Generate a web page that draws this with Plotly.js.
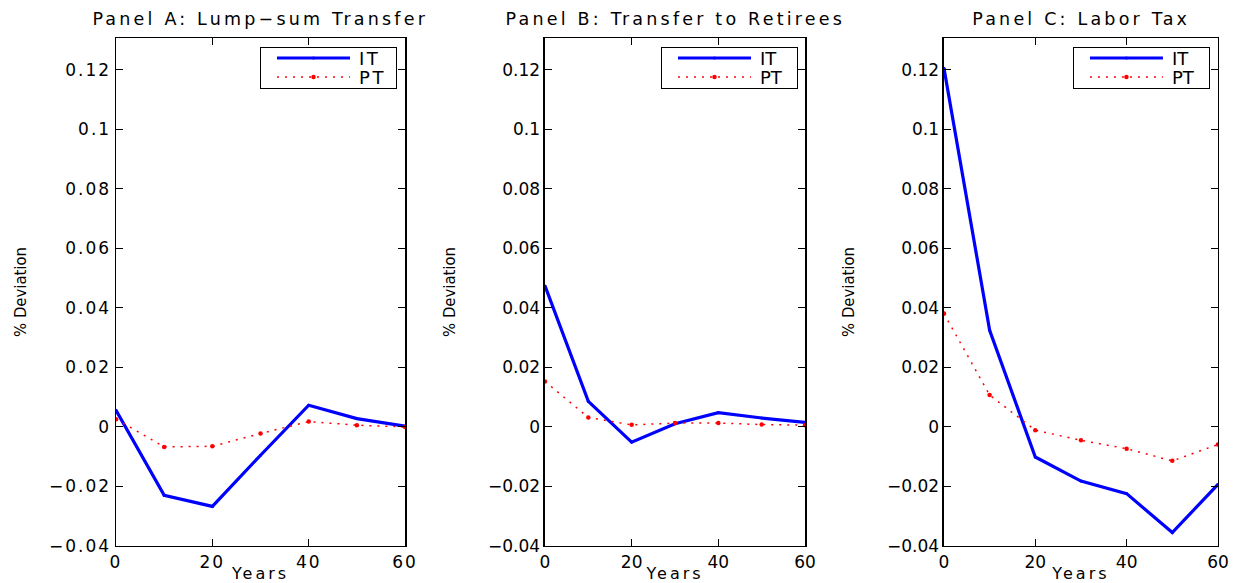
<!DOCTYPE html>
<html>
<head>
<meta charset="utf-8">
<script src="https://cdn.plot.ly/plotly-3.0.1.min.js"></script>
<style>
html,body{margin:0;padding:0;background:#fff}
#chart{width:1233px;height:583px}
#chart .annotation-text{letter-spacing:3.2px}
#chart .xtick text,#chart .ytick text{letter-spacing:2px}
#chart .legendtext{letter-spacing:2.5px}
#chart .g-xtitle text,#chart .g-x2title text,#chart .g-x3title text{letter-spacing:3px}
</style>
</head>
<body>
<div id="chart"></div>
<script>
const years = [0, 10, 20, 30, 40, 50, 60];
const panelTitles = ["Panel A: Lump\u2212sum Transfer", "Panel B: Transfer to Retirees", "Panel C: Labor Tax"];
const seriesNames = ["IT", "PT"];
const itA = [0.0056, -0.0230, -0.0267, -0.0095, 0.0073, 0.0028, 0.0003];
const ptA = [0.0026, -0.0067, -0.0065, -0.0022, 0.0018, 0.0006, 0.0000];
const itB = [0.0474, 0.0086, -0.0051, 0.0011, 0.0048, 0.0030, 0.0015];
const ptB = [0.0153, 0.0032, 0.0007, 0.0013, 0.0013, 0.0008, 0.0006];
const itC = [0.1205, 0.0325, -0.0101, -0.0182, -0.0224, -0.0355, -0.0193];
const ptC = [0.0381, 0.0107, -0.0011, -0.0045, -0.0073, -0.0114, -0.0059];
const yTickVals = [-0.04, -0.02, 0, 0.02, 0.04, 0.06, 0.08, 0.1, 0.12];
const yTickText = ["\u22120.04", "\u22120.02", "0", "0.02", "0.04", "0.06", "0.08", "0.1", "0.12"];
const xTickVals = [0, 20, 40, 60];
const xLabel = "Years";
const yLabel = "% Deviation";

const itSeries = [itA, itB, itC];
const ptSeries = [ptA, ptB, ptC];
const xDomains = [[0.0941, 0.3285], [0.4420, 0.6529], [0.7656, 0.9878]];
const yDomain = [0.0635, 0.9348];
const legendX = [0.3220, 0.6472, 0.9813];

const font = "DejaVu Sans, Liberation Sans, Arial, sans-serif";
const condensed = "DejaVu Sans Condensed, Liberation Sans Narrow, Arial Narrow, sans-serif";
const traces = [];
const layout = {
  width: 1233, height: 583,
  margin: {l: 0, r: 0, t: 0, b: 0},
  paper_bgcolor: "#fff", plot_bgcolor: "#fff",
  font: {family: font, size: 15, color: "#000"},
  annotations: []
};

for (let i = 0; i < 3; i++) {
  const s = i === 0 ? "" : String(i + 1);
  const leg = "legend" + s;
  traces.push({
    x: years, y: itSeries[i], name: seriesNames[0], type: "scatter", mode: "lines+markers",
    line: {color: "#0000ff", width: 3.2}, marker: {color: "#0000ff", size: 3},
    xaxis: "x" + s, yaxis: "y" + s, legend: leg
  });
  traces.push({
    x: years, y: ptSeries[i], name: seriesNames[1], type: "scatter", mode: "lines+markers",
    line: {color: "#ff0000", width: 1.5, dash: "2px,6px"}, marker: {color: "#ff0000", size: 4.5},
    xaxis: "x" + s, yaxis: "y" + s, legend: leg
  });
  layout["xaxis" + s] = {
    domain: xDomains[i], anchor: "y" + s, range: [0, 60],
    tickvals: xTickVals, ticks: "inside", ticklen: 7, tickwidth: 1, tickcolor: "#000",
    showline: true, linecolor: "#000", linewidth: 1.5, mirror: "ticks",
    showgrid: false, zeroline: false,
    tickfont: {family: font, size: 17, color: "#000"},
    title: {text: xLabel, font: {family: font, size: 16, color: "#000"}, standoff: 0}
  };
  layout["yaxis" + s] = {
    domain: yDomain, anchor: "x" + s, range: [-0.04, 0.1307],
    tickvals: yTickVals, ticktext: yTickText, ticks: "inside", ticklen: 7, tickwidth: 1, tickcolor: "#000",
    showline: true, linecolor: "#000", linewidth: 1.5, mirror: "ticks",
    showgrid: false, zeroline: false,
    tickfont: {family: font, size: 17, color: "#000"},
    title: {text: yLabel, font: {family: condensed, size: 16.5, color: "#000"}, standoff: 28}
  };
  layout[leg] = {
    x: legendX[i], y: 0.9194, xanchor: "right", yanchor: "top",
    bgcolor: "#fff", bordercolor: "#000", borderwidth: 1,
    font: {family: font, size: 18, color: "#000"},
    tracegroupgap: 0, itemwidth: 86
  };
  layout.annotations.push({
    text: panelTitles[i], xref: "paper", yref: "paper",
    x: (xDomains[i][0] + xDomains[i][1]) / 2, y: 0.968, xanchor: "center", yanchor: "middle",
    showarrow: false, font: {family: font, size: 17.5, color: "#000"}
  });
}

function parseTranslate(el) {
  var m = /translate\(\s*([-\d.e]+)[ ,]+([-\d.e]+)\s*\)/.exec(el.getAttribute("transform") || "");
  return m ? [parseFloat(m[1]), parseFloat(m[2])] : [0, 0];
}

Plotly.newPlot("chart", traces, layout, {displayModeBar: false, staticPlot: true}).then(function (gd) {
  gd.querySelectorAll("g.legend, g.legend2, g.legend3").forEach(function (lg) {
    lg.querySelectorAll(".legendlines path").forEach(function (p) { p.setAttribute("d", "M14,0h73"); });
    lg.querySelectorAll(".legendpoints path").forEach(function (p) { p.setAttribute("transform", "translate(50.5,0)"); });
    var bg = lg.querySelector("rect.bg");
    if (bg) {
      var w = parseFloat(bg.getAttribute("width")) || 136;
      var extra = 136 - w;
      bg.setAttribute("height", "41");
      if (extra > 0) {
        bg.setAttribute("width", "136");
        var g = parseTranslate(lg);
        lg.setAttribute("transform", "translate(" + (g[0] - extra) + "," + g[1] + ")");
      }
    }
    var items = lg.querySelectorAll("g.traces");
    var ys = [11, 30];
    items.forEach(function (t, k) {
      var tr = parseTranslate(t);
      t.setAttribute("transform", "translate(" + (tr[0] + 2) + "," + ys[k] + ")");
    });
  });
});
</script>
</body>
</html>
